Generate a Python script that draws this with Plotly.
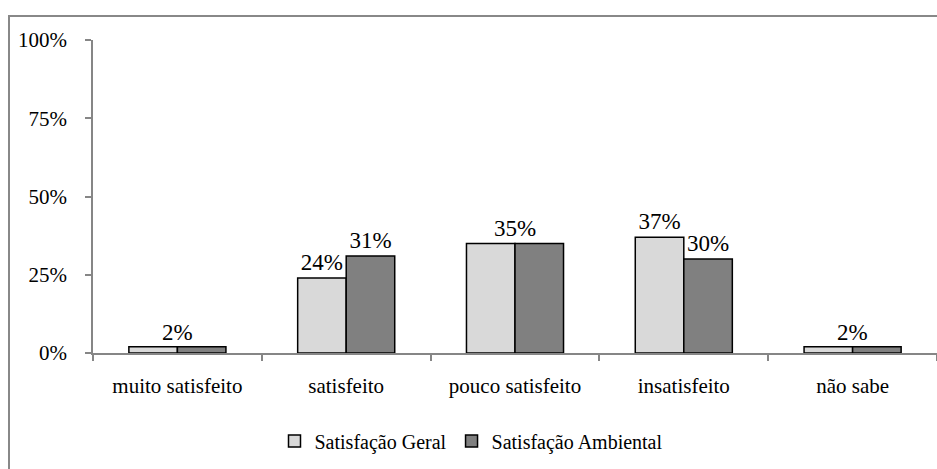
import plotly.graph_objects as go

categories = ["muito satisfeito", "satisfeito", "pouco satisfeito", "insatisfeito", "não sabe"]
satisfacao_geral = [2, 24, 35, 37, 2]
satisfacao_ambiental = [2, 31, 35, 30, 2]
y_ticks = [0, 25, 50, 75, 100]
y_tick_labels = ["0%", "25%", "50%", "75%", "100%"]

W, H = 937, 469
ML, MR, MT, MB = 93, 0, 40, 116
PW, PH = W - ML - MR, H - MT - MB

FONT = "Liberation Serif"
AXIS_GRAY = "#868686"
LABEL_SIZE = 23


def px_x(x):
    return (x - ML) / PW


def px_y(y):
    return (H - MB - y) / PH


def bar_labels(values, other):
    # equal pairs share one centred label (added as annotations below)
    return [f"{v}%" if v != o else "" for v, o in zip(values, other)]


fig = go.Figure()
fig.add_trace(go.Bar(
    x=categories, y=satisfacao_geral, name="Satisfação Geral",
    marker=dict(color="#D9D9D9", line=dict(color="#000000", width=1.5)),
    text=bar_labels(satisfacao_geral, satisfacao_ambiental), textposition="outside",
    textfont=dict(family=FONT, size=LABEL_SIZE, color="#000000"), cliponaxis=False,
))
fig.add_trace(go.Bar(
    x=categories, y=satisfacao_ambiental, name="Satisfação Ambiental",
    marker=dict(color="#808080", line=dict(color="#000000", width=1.5)),
    text=bar_labels(satisfacao_ambiental, satisfacao_geral), textposition="outside",
    textfont=dict(family=FONT, size=LABEL_SIZE, color="#000000"), cliponaxis=False,
))

shared = [
    dict(x=c, y=g, text=f"{g}%", xref="x", yref="y", showarrow=False,
         yanchor="bottom", yshift=0,
         font=dict(family=FONT, size=LABEL_SIZE, color="#000000"))
    for c, g, a in zip(categories, satisfacao_geral, satisfacao_ambiental) if g == a
]

fig.update_layout(
    width=W, height=H,
    margin=dict(l=ML, r=MR, t=MT, b=MB, pad=0),
    paper_bgcolor="white", plot_bgcolor="white",
    barmode="group", bargap=0.425, bargroupgap=0,
    font=dict(family=FONT, size=21, color="#000000"),
    showlegend=True,
    legend=dict(
        orientation="h", x=px_x(471), xanchor="center",
        y=px_y(441), yanchor="middle",
        font=dict(family=FONT, size=20, color="#000000"),
        itemwidth=30, tracegroupgap=0,
    ),
    annotations=shared,
    shapes=[dict(
        type="rect", xref="paper", yref="paper",
        x0=px_x(9), x1=px_x(945), y0=px_y(480), y1=px_y(16),
        line=dict(color="#888888", width=2), fillcolor="rgba(0,0,0,0)",
        layer="below",
    )],
)

fig.update_xaxes(
    showline=True, linecolor=AXIS_GRAY, linewidth=1.5,
    ticks="outside", tickson="boundaries", ticklen=6, tickcolor=AXIS_GRAY, tickwidth=1.5,
    showgrid=False, zeroline=False,
    tickfont=dict(family=FONT, size=21, color="#000000"),
    ticklabelstandoff=13,
)
fig.update_yaxes(
    range=[0, 100], tickvals=y_ticks, ticktext=y_tick_labels,
    showline=True, linecolor=AXIS_GRAY, linewidth=1.5,
    ticks="outside", ticklen=6, tickcolor=AXIS_GRAY, tickwidth=1.5,
    showgrid=False, zeroline=False,
    tickfont=dict(family=FONT, size=21, color="#000000"),
    ticklabelstandoff=14,
)

fig.write_html("out.html")
